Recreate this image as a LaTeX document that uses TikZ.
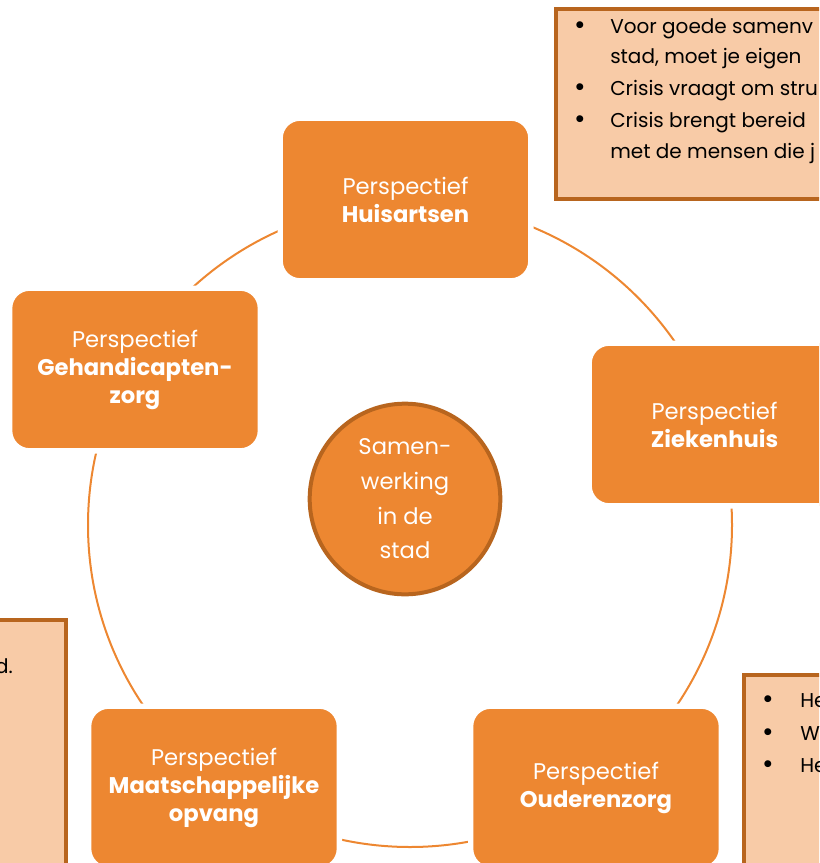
\documentclass[tikz,border=0pt]{standalone}
\usepackage{fontspec}
\setmainfont{Poppins}
\definecolor{oranje}{HTML}{ED8731}
\definecolor{perzik}{HTML}{F8CBA7}
\definecolor{bruin}{HTML}{B8651E}
\begin{document}
\begin{tikzpicture}[
        x=0.75pt, y=-0.75pt,
        ring/.style={circle, draw=oranje, line width=1.5pt, inner sep=0pt, minimum size=483pt},
        persp/.style={rounded corners=15pt, fill=oranje, draw=white, line width=4pt,
                      minimum width=188pt, minimum height=122pt, text=white, align=center,
                      font=\fontsize{17}{21}\selectfont},
        hub/.style={circle, fill=oranje, draw=bruin, line width=3pt, inner sep=0pt,
                    minimum size=143pt, text=white, align=center,
                    font=\fontsize{17}{26}\selectfont},
        note/.style={fill=perzik, draw=bruin, line width=3pt},
        notetxt/.style={anchor=base west, inner sep=0pt, font=\fontsize{15}{18}\selectfont},
        bul/.style={anchor=base, inner sep=0pt, font=\fontsize{21}{18}\selectfont}]

    \useasboundingbox (0,0) rectangle (819,863);
    \clip (0,0) rectangle (819,863);

    % --- notities (lopen buiten beeld door)
    \draw[note] (556,9) rectangle (900,199);
    \draw[note] (-50,620) rectangle (66,900);
    \draw[note] (744,675) rectangle (900,900);

    \foreach \y/\t in {34/Voor goede samenv, 64/{stad, moet je eigen}, 96/Crisis vraagt om stru,
                       128/Crisis brengt bereid, 159/met de mensen die j}
        \node[notetxt] at (610,\y) {\t};
    \foreach \y in {34,96,128}
        \node[bul] at (580,\y+1) {•};

    \node[notetxt, anchor=base east] at (13,673) {d.};

    \foreach \y/\t in {707/He, 740/W, 772/He} {
        \node[bul] at (768,\y+1) {•};
        \node[notetxt] at (800,\y) {\t};
    }

    % --- cirkel van perspectieven
    \node[ring] (ring) at (410,525) {};

    \node[persp] (huis)    at (405.5,199.5) {Perspectief\\\textbf{Huisartsen}};
    \node[persp] (zieken)  at (714.5,424.5) {Perspectief\\\textbf{Ziekenhuis}};
    \node[persp] (ouderen) at (596,787.5)   {Perspectief\\\textbf{Ouderenzorg}};
    \node[persp] (opvang)  at (214,787.5)   {Perspectief\\\textbf{Maatschappelijke}\\\textbf{opvang}};
    \node[persp] (gehand)  at (135,369.5)   {Perspectief\\\textbf{Gehandicapten-}\\\textbf{zorg}};

    % --- midden
    \node[hub] (stad) at (405,499) {Samen-\\werking\\in de\\stad};

\end{tikzpicture}
\end{document}
